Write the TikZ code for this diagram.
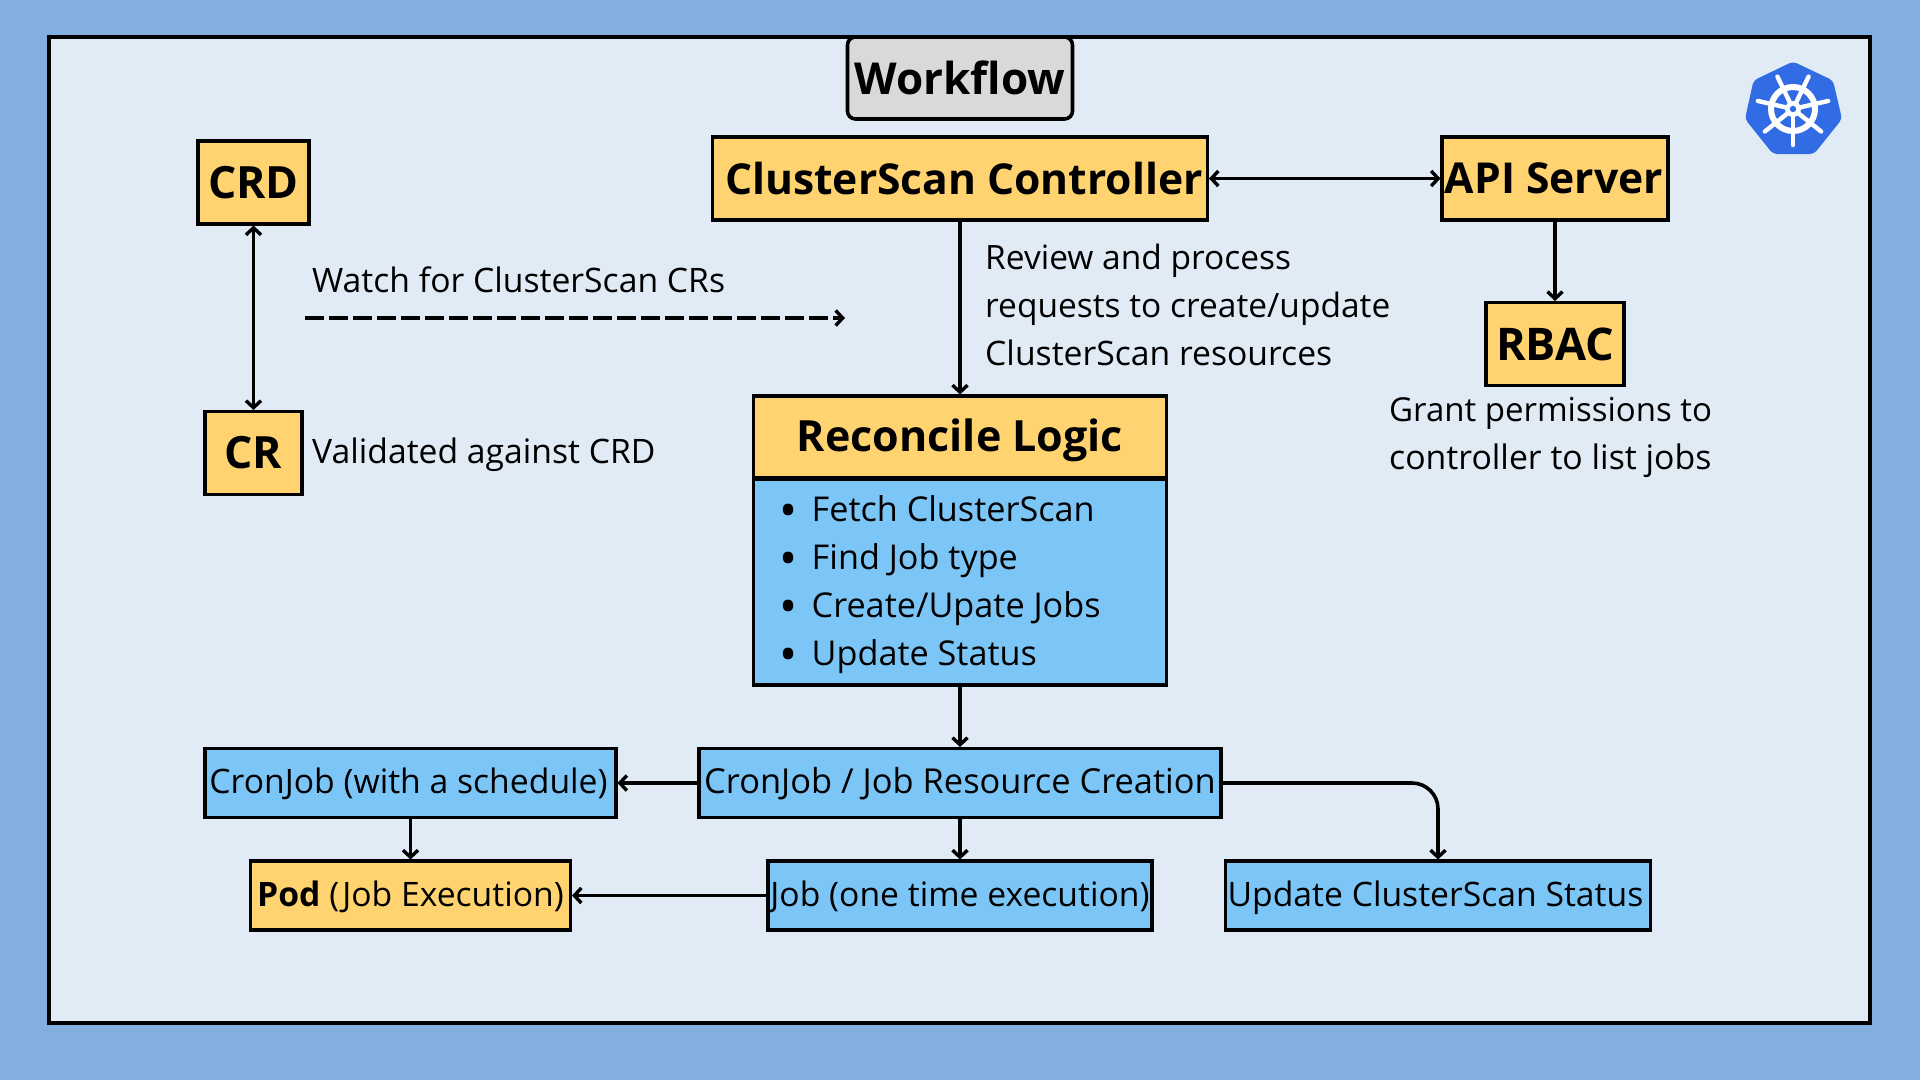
\documentclass[tikz,border=0pt]{standalone}
\usepackage{fontspec}
\setmainfont{Open Sans}
\usetikzlibrary{arrows.meta}
\definecolor{pagebg}{HTML}{82AEE0}
\definecolor{panel}{HTML}{E1EBF6}
\definecolor{yel}{HTML}{FFD470}
\definecolor{blu}{HTML}{7CC6F7}
\definecolor{gry}{HTML}{D9D9D9}
\definecolor{kube}{HTML}{326CE5}
\newcommand{\fsz}[1]{\fontsize{#1}{#1}\selectfont}
\newcommand{\blt}{\makebox[32.5pt][l]{\fsz{48}\raisebox{-6pt}{•}}}
\tikzset{
  x=1pt,y=-1pt,
  tipb/.tip={Straight Barb[length=7pt,width=15pt,line width=3.4pt]},
  boxbase/.style={draw=black,line width=3.6pt,inner sep=0pt,outer sep=0pt,align=center,text=black},
  ybox/.style={boxbase,fill=yel,font=\fsz{42.6}\bfseries},
  bbox/.style={boxbase,fill=blu,font=\fsz{33.7},text height=31pt,text depth=10pt},
  note/.style={anchor=base west,inner sep=0pt,font=\fsz{33.5},text=black},
  listline/.style={note,font=\fsz{34.2}},
  conn/.style={line width=3.6pt,draw=black,-tipb,shorten >=1.5pt},
  twoway/.style={line width=3.6pt,draw=black,tipb-tipb,shorten >=1.5pt,shorten <=1.5pt},
}
\begin{document}
\begin{tikzpicture}
\useasboundingbox (0,0) rectangle (1920,1080);
\fill[pagebg] (0,0) rectangle (1920,1080);
\draw[fill=panel,line width=3.6pt] (49,37) rectangle (1870,1023);

\node[boxbase,fill=gry,rounded corners=8pt,minimum width=225pt,minimum height=82pt,font=\fsz{44}\bfseries] (wf) at (960,78) {Workflow};
\node[ybox,minimum width=495pt,minimum height=83pt] (csc) at (960,178.5) {\hspace{8pt}ClusterScan Controller};
\node[ybox,minimum width=226pt,minimum height=83pt] (api) at (1555,178.5) {\hspace{-2pt}API Server};
\node[ybox,font=\fsz{44.5}\bfseries,minimum width=111pt,minimum height=83pt] (crd) at (253.5,182.5) {CRD};
\node[ybox,font=\fsz{44.5}\bfseries,minimum width=97pt,minimum height=83pt] (cr) at (253.5,453) {CR};
\node[ybox,font=\fsz{45}\bfseries,minimum width=138pt,minimum height=83pt] (rbac) at (1555,344) {RBAC};
\node[ybox,font=\fsz{43}\bfseries,text height=39pt,text depth=10.4pt,minimum width=413pt,minimum height=82pt] (rec) at (960,437) {Reconcile Logic};
\node[boxbase,fill=blu,minimum width=413pt,minimum height=206pt] (list) at (960,582) {};
\node[bbox,font=\fsz{34.4},minimum width=522pt,minimum height=69pt] (res) at (960,783) {CronJob / Job Resource Creation};
\node[bbox,minimum width=411pt,minimum height=69pt] (sched) at (410.5,783) {CronJob (with a schedule)\hspace{4pt}};
\node[bbox,minimum width=384pt,minimum height=69pt] (job) at (960,895.5) {Job (one time execution)};
\node[bbox,fill=yel,minimum width=320pt,minimum height=69pt] (pod) at (410.5,895.5) {\textbf{Pod} (Job Execution)};
\node[bbox,minimum width=425pt,minimum height=69pt] (upd) at (1438,895.5) {Update ClusterScan Status\hspace{5pt}};

\node[listline] (l1) at (779,521) {\blt Fetch ClusterScan};
\node[listline] (l2) at (779,569) {\blt Find Job type};
\node[listline] (l3) at (779,617) {\blt Create/Upate Jobs};
\node[listline] (l4) at (779,665) {\blt Update Status};

\node[note,font=\fsz{33.7}] (t1) at (312,292) {Watch for ClusterScan CRs};
\node[note,font=\fsz{33.7}] (t2) at (312,463) {Validated against CRD};
\node[note] (t3) at (985,269) {Review and process};
\node[note] (t4) at (985,317) {requests to create/update};
\node[note,font=\fsz{33.7}] (t5) at (985,365) {ClusterScan resources};
\node[note,font=\fsz{33}] (t6) at (1389,421) {Grant permissions to};
\node[note,font=\fsz{33.8}] (t7) at (1389,469) {controller to list jobs};

\coordinate (ds) at (305,318);
\coordinate (de) at (845,318);
\draw[line width=4pt,dash pattern=on 19pt off 5pt,-tipb] (ds) -- (de);

\draw[twoway] (csc.east) -- (api.west);
\draw[twoway] (crd.south) -- (cr.north);
\draw[conn] (csc.south) -- (rec.north);
\draw[conn] (api.south) -- (rbac.north);
\draw[conn] (list.south) -- (res.north);
\draw[conn] (res.west) -- (sched.east);
\draw[conn] (res.south) -- (job.north);
\draw[conn] (sched.south) -- (pod.north);
\draw[conn] (job.west) -- (pod.east);
\draw[conn,rounded corners=26pt] (res.east) -| (upd.north);

% Kubernetes logo
\fill[kube,rounded corners=4pt] (1793,61.5) -- (1833,80.5) -- (1842,119) -- (1814,154) -- (1773,154) -- (1745,119) -- (1753.5,80.5) -- cycle;
\begin{scope}[shift={(1793,109)}]
  \draw[white,line width=6pt] (0,0) circle (22pt);
  \foreach \a in {-90,-38.6,12.9,64.3,115.7,167.1,218.6}{
    \draw[white,line width=4.4pt,line cap=round] (0,0) -- (\a:36pt);
  }
  \fill[white] (0,0) circle (8pt);
  \fill[kube] (0,0) circle (3.2pt);
\end{scope}
\end{tikzpicture}
\end{document}
